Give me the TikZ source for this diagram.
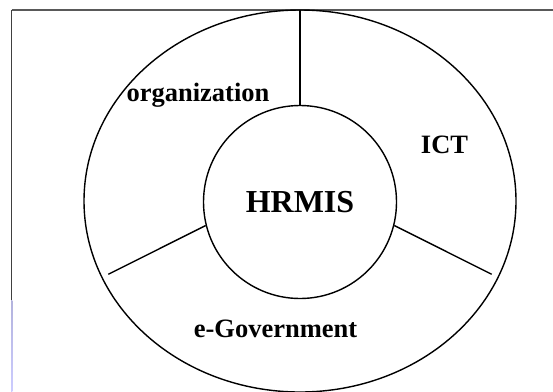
\documentclass[tikz,border=0pt]{standalone}
\usepackage{fontspec}
\setmainfont{Liberation Serif}
\begin{document}
\begin{tikzpicture}[x=1pt,y=-1pt,
  ring/.style={draw=black,line width=1.4pt},
  lbl/.style={font=\fontsize{26.5}{30}\selectfont\bfseries,anchor=base,inner sep=0pt},
  framecol/.style={line width=1.3pt}]
\useasboundingbox (0,0) rectangle (553,391);
\fill[white] (0,0) rectangle (553,391);
% frame
\draw[framecol,draw=black!65] (11.7,10) -- (553,10);
\draw[framecol,draw=black!75] (11.7,10) -- (11.7,300);
\shade[top color=black!45!blue!30,bottom color=blue!20!white] (11.05,300) rectangle (12.35,391);
% outer ellipse
\draw[ring] (300,201) ellipse [x radius=216pt, y radius=191pt];
% hub
\node[ring,circle,minimum size=193pt,inner sep=0pt,
      font=\fontsize{32}{36}\selectfont\bfseries] (hub) at (300,202) {HRMIS};
% spoke ends
\coordinate (topend) at (300,10);
\coordinate (leftend) at (108.3,274.3);
\coordinate (rightend) at (491.7,274.3);
\draw[ring] (hub.north) -- (topend);
\draw[ring] (hub.194.5) -- (leftend);
\draw[ring] (hub.-14.5) -- (rightend);
% labels
\node[lbl] (org) at (198,101.7) {organization};
\node[lbl] (ict) at (444.5,153.3) {ICT};
\node[lbl] (egov) at (275.5,337.3) {e-Government};
\end{tikzpicture}
\end{document}
